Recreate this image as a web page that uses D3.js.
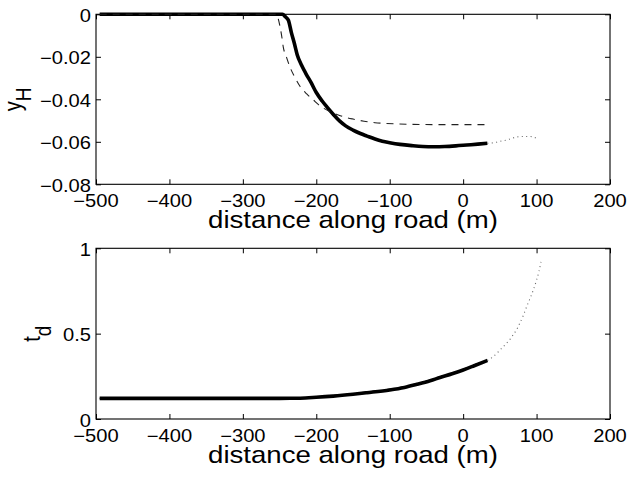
<!DOCTYPE html>
<html>
<head>
<meta charset="utf-8">
<script src="https://cdn.jsdelivr.net/npm/d3@7"></script>
<style>
  html, body { margin: 0; padding: 0; background: #fff; }
  svg { display: block; }
  text { font-family: "Liberation Sans", Arial, Helvetica, sans-serif; fill: #000; }
</style>
</head>
<body>
<svg id="fig" width="629" height="481"></svg>
<script>
// ---- tick labels ----
const xTickVals = [-500, -400, -300, -200, -100, 0, 100, 200];
const xTickText = ["\u2212500", "\u2212400", "\u2212300", "\u2212200", "\u2212100", "0", "100", "200"];
const yHTickVals = [-0.08, -0.06, -0.04, -0.02, 0];
const yHTickText = ["\u22120.08", "\u22120.06", "\u22120.04", "\u22120.02", "0"];
const tdTickVals = [0, 0.5, 1];
const tdTickText = ["0", "0.5", "1"];

// ---- lateral offset y_H : measured (solid), model (dashed), extrapolated (dotted) ----
const yHSolidX = [-495, -246, -242, -238, -234, -230, -226, -220, -214, -207, -200, -192, -185, -177, -168, -160, -150, -140, -131, -120, -110, -100, -86, -70, -55, -40, -25, -10, 5, 20, 33];
const yHSolidY = [0, 0, -0.0012, -0.0028, -0.0085, -0.0135, -0.0190, -0.0240, -0.0280, -0.0322, -0.0368, -0.0408, -0.0438, -0.0470, -0.0503, -0.0525, -0.0545, -0.0561, -0.0573, -0.0587, -0.0597, -0.0604, -0.0612, -0.0618, -0.0622, -0.0623, -0.0622, -0.0619, -0.0615, -0.0611, -0.0607];

const yHDashX = [-495, -254, -251.5, -249.4, -247, -245, -240.5, -236, -229, -222, -213, -204, -197, -190, -180, -170, -163, -150, -135, -120, -108, -90, -70, -40, 0, 33];
const yHDashY = [0, 0, -0.0025, -0.0058, -0.0105, -0.0153, -0.0203, -0.0247, -0.0298, -0.0340, -0.0375, -0.0403, -0.0425, -0.0442, -0.0460, -0.0474, -0.0482, -0.0493, -0.0503, -0.0510, -0.0513, -0.0516, -0.0518, -0.0519, -0.0519, -0.0519];

const yHDotX = [33, 45.6, 52.4, 59.3, 66, 73.7, 81.9, 88.7, 95.6, 101];
const yHDotY = [-0.0607, -0.0602, -0.0596, -0.0592, -0.0584, -0.0577, -0.0575, -0.0575, -0.0577, -0.0588];

// ---- t_d : measured (solid), model (dashed), extrapolated (dotted) ----
const tdSolidX = [-495, -250, -222, -200, -177, -150, -131, -100, -80, -63, -45, -31.5, -15, 0, 15, 33];
const tdSolidY = [0.121, 0.121, 0.122, 0.127, 0.134, 0.145, 0.154, 0.170, 0.185, 0.203, 0.224, 0.243, 0.265, 0.287, 0.312, 0.343];

const tdDashX = [-495, -250, -222, -200, -177, -150, -131, -100, -80, -63, -45, -31.5, -15, 0, 15, 33];
const tdDashY = [0.121, 0.121, 0.123, 0.129, 0.137, 0.149, 0.158, 0.175, 0.190, 0.208, 0.229, 0.248, 0.270, 0.292, 0.317, 0.346];

const tdDotX = [33, 40, 46, 52, 59, 64, 68, 73, 77, 82, 86.5, 91, 95.6, 100, 103, 106];
const tdDotY = [0.343, 0.362, 0.385, 0.412, 0.443, 0.468, 0.492, 0.525, 0.560, 0.607, 0.658, 0.705, 0.756, 0.814, 0.860, 0.920];

// ---- layout ----
const FONT_SX = 1.15;          // horizontal stretch applied to all lettering
const svg = d3.select("#fig");
const left = 96, right = 610;

const x = d3.scaleLinear().domain([-500, 200]).range([left, right]);

const panels = [
  {
    top: 14.3, bottom: 184.3, domain: [-0.08, 0],
    ticks: yHTickVals, tickText: yHTickText,
    label: "y", sub: "H", labelX: 20.5,
    series: [
      { xs: yHSolidX, ys: yHSolidY, kind: "solid" },
      { xs: yHDashX, ys: yHDashY, kind: "dash" },
      { xs: yHDotX, ys: yHDotY, kind: "dot" }
    ]
  },
  {
    top: 248.3, bottom: 419, domain: [0, 1],
    ticks: tdTickVals, tickText: tdTickText,
    label: "t", sub: "d", labelX: 40,
    series: [
      { xs: tdDashX, ys: tdDashY, kind: "dash" },
      { xs: tdSolidX, ys: tdSolidY, kind: "solid" },
      { xs: tdDotX, ys: tdDotY, kind: "dot" }
    ]
  }
];

const styles = {
  solid: { width: 3.6, color: "#000", dash: null },
  dash:  { width: 1.1, color: "#222", dash: "7,6" },
  dot:   { width: 1.1, color: "#666", dash: "1,3.4" }
};

panels.forEach(p => {
  const y = d3.scaleLinear().domain(p.domain).range([p.bottom, p.top]);
  const g = svg.append("g");
  const tick = 5;

  // frame
  g.append("rect")
    .attr("x", left).attr("y", p.top)
    .attr("width", right - left).attr("height", p.bottom - p.top)
    .attr("fill", "none").attr("stroke", "#000").attr("stroke-width", 1.1);

  // inward ticks on all four sides
  const axB = g.append("g").attr("transform", `translate(0,${p.bottom})`)
    .call(d3.axisBottom(x).tickValues(xTickVals).tickSize(-tick).tickFormat(""));
  const axT = g.append("g").attr("transform", `translate(0,${p.top})`)
    .call(d3.axisTop(x).tickValues(xTickVals).tickSize(-tick).tickFormat(""));
  const axL = g.append("g").attr("transform", `translate(${left},0)`)
    .call(d3.axisLeft(y).tickValues(p.ticks).tickSize(-tick).tickFormat(""));
  const axR = g.append("g").attr("transform", `translate(${right},0)`)
    .call(d3.axisRight(y).tickValues(p.ticks).tickSize(-tick).tickFormat(""));
  [axB, axT, axL, axR].forEach(a => {
    a.select(".domain").remove();
    a.selectAll("line").attr("stroke", "#000").attr("stroke-width", 1);
  });

  // x tick labels
  xTickVals.forEach((v, i) => {
    g.append("text")
      .attr("transform", `translate(${x(v)},${p.bottom + 23}) scale(${FONT_SX},1)`)
      .attr("text-anchor", "middle")
      .attr("font-size", 17.5)
      .text(xTickText[i]);
  });

  // y tick labels
  p.ticks.forEach((v, i) => {
    g.append("text")
      .attr("transform", `translate(${left - 5},${y(v) + 7.5}) scale(${FONT_SX},1)`)
      .attr("text-anchor", "end")
      .attr("font-size", 17.5)
      .text(p.tickText[i]);
  });

  // x axis title
  g.append("text")
    .attr("transform", `translate(${(left + right) / 2},${p.bottom + 44}) scale(${FONT_SX},1)`)
    .attr("text-anchor", "middle")
    .attr("font-size", 24)
    .text("distance along road (m)");

  // y axis title with subscript
  const yl = g.append("text")
    .attr("transform", `translate(${p.labelX},${(p.top + p.bottom) / 2}) scale(${FONT_SX},1) rotate(-90)`)
    .attr("text-anchor", "middle")
    .attr("font-size", 20);
  yl.append("tspan").text(p.label);
  yl.append("tspan").attr("dy", 9.5).attr("font-size", 19).text(p.sub);

  // curves
  const line = d3.line()
    .x(d => x(d[0]))
    .y(d => y(d[1]))
    .curve(d3.curveMonotoneX);

  p.series.forEach(s => {
    const st = styles[s.kind];
    const pts = s.xs.map((xv, i) => [xv, s.ys[i]]);
    g.append("path")
      .attr("d", line(pts))
      .attr("fill", "none")
      .attr("stroke", st.color)
      .attr("stroke-width", st.width)
      .attr("stroke-linejoin", "round")
      .attr("stroke-dasharray", st.dash);
  });
});
</script>
</body>
</html>
